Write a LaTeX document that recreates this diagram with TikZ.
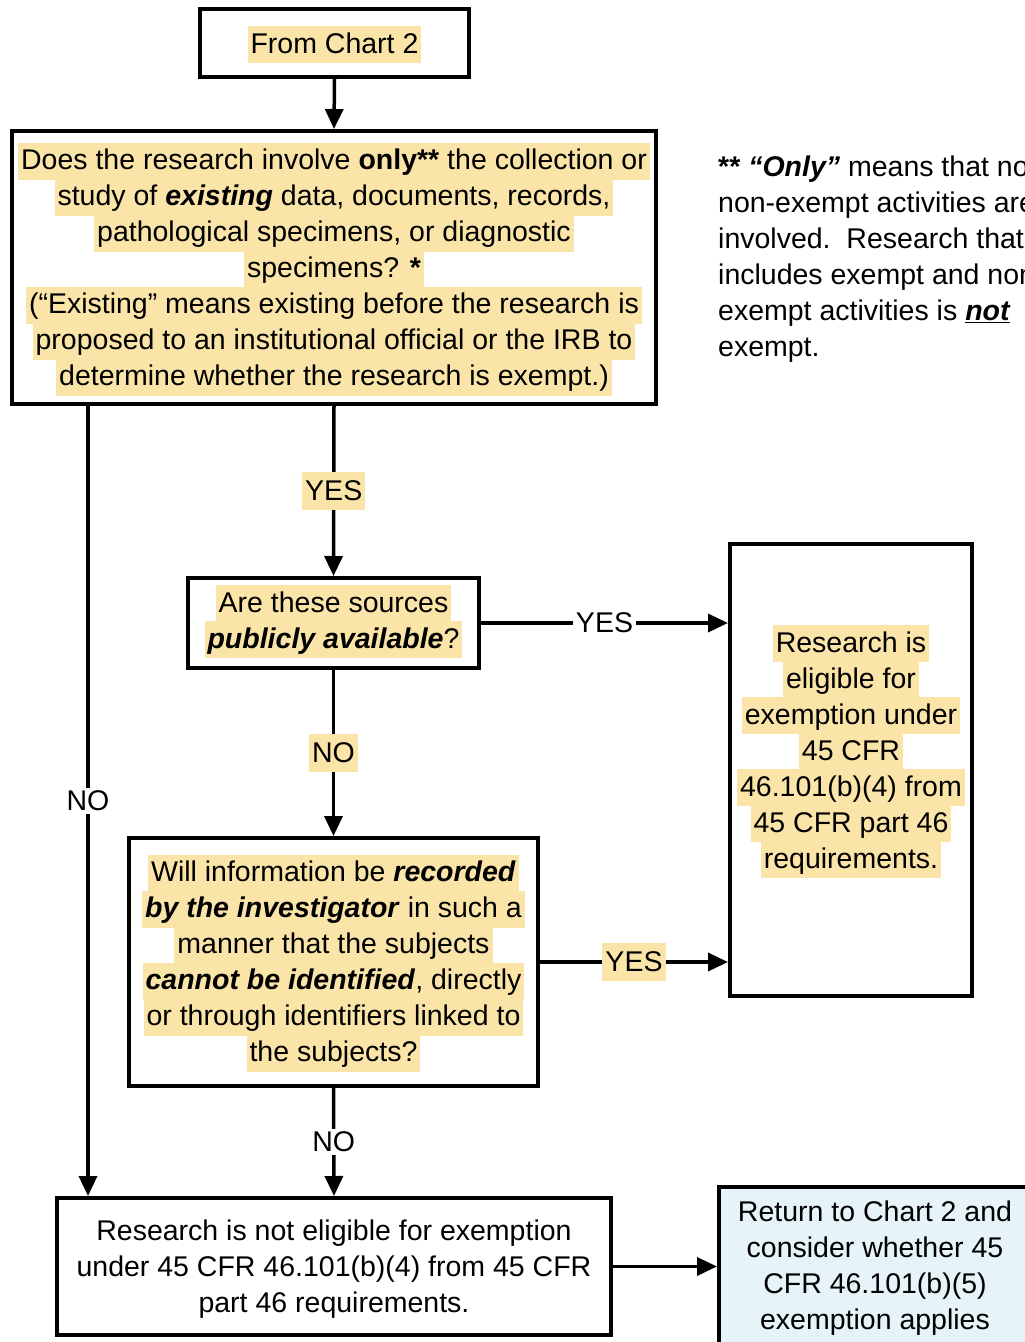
\documentclass[tikz,border=0pt]{standalone}
\usepackage{fontspec}
\setmainfont{Liberation Sans}
\usetikzlibrary{arrows.meta}
\definecolor{hly}{RGB}{250,228,168}
\definecolor{boxblue}{RGB}{230,243,248}
\newcommand\fsz{\fontsize{28.5}{36}\selectfont}
\newsavebox\hlbox
\newlength\hlwd
\newcommand\hl[1]{\sbox\hlbox{#1}\setlength\hlwd{\wd\hlbox}\addtolength\hlwd{6pt}%
  \smash{\rlap{\kern-3pt\textcolor{hly}{\rule[-10pt]{\hlwd}{37pt}}}}\usebox\hlbox}
\newcommand\bi[1]{\textbf{\textit{#1}}}
\begin{document}
\begin{tikzpicture}[x=1pt,y=-1pt,
  box/.style={draw, line width=4pt, inner sep=0pt, align=center, font=\fsz},
  txt/.style={inner sep=0pt, align=center, font=\fsz},
  arr/.style={line width=3.5pt, -{Triangle[length=20pt,width=18pt]}},
  lbl/.style={font=\fsz, inner sep=3pt, fill=white},
  hlbl/.style={lbl, fill=hly, minimum height=38pt}]
\path[use as bounding box, clip] (0,0) rectangle (1025,1342);
\fill[white] (0,0) rectangle (1025,1342);

\node[box, minimum width=269pt, minimum height=68pt] (b1) at (334.5,43) {\hl{From Chart 2}};

\node[box, minimum width=644pt, minimum height=273pt] (b2) at (334,267.5)
 {\rule{0pt}{26pt}\hl{Does the research involve \textbf{only**} the collection or}\\
  \hl{study of \bi{existing} data, documents, records,}\\
  \hl{pathological specimens, or diagnostic}\\
  \hl{specimens? \textbf{*}}\\
  \hl{(“Existing” means existing before the research is}\\
  \hl{proposed to an institutional official or the IRB to}\\
  \hl{determine whether the research is exempt.)}};

\node[box, minimum width=291pt, minimum height=90pt] (b3) at (333.5,623)
 {\hl{Are these sources}\\ \hl{\bi{publicly available}?}};

\node[box, minimum width=242pt, minimum height=452pt] (b4) at (851,770) {};
\node[txt] (b4t) at (851,753)
 {\hl{Research is}\\ \hl{eligible for}\\ \hl{exemption under}\\ \hl{45 CFR}\\
  \hl{46.101(b)(4) from}\\ \hl{45 CFR part 46}\\ \hl{requirements.}};

\node[box, minimum width=409pt, minimum height=248pt] (b5) at (333.5,962)
 {\rule{0pt}{25pt}\hl{Will information be \bi{recorded}}\\
  \hl{\bi{by the investigator} in such a}\\
  \hl{manner that the subjects}\\
  \hl{\bi{cannot be identified}, directly}\\
  \hl{or through identifiers linked to}\\
  \hl{the subjects?}};

\node[box, minimum width=554pt, minimum height=137pt] (b6) at (334,1266.5)
 {\rule{0pt}{25pt}Research is not eligible for exemption\\
  under 45 CFR 46.101(b)(4) from 45 CFR\\
  part 46 requirements.};

\node[box, fill=boxblue, minimum width=312pt, minimum height=157pt] (b7) at (875,1265.5)
 {\rule{0pt}{25pt}Return to Chart 2 and\\ consider whether 45\\ CFR 46.101(b)(5)\\ exemption applies};

\node[anchor=north west, align=left, font=\fsz, inner sep=0pt] (note) at (718,151)
 {\strut\textbf{**} \bi{“Only”} means that no\\
  non-exempt activities are\\
  involved.\ \ Research that\\
  includes exempt and non-\\
  exempt activities is \bi{\underline{not}}\\
  exempt.};

\coordinate (nox) at (88,0);

\draw[arr] (b1.south) -- (b2.north);
\draw[arr] (b2.south) -- node[hlbl]{YES} (b3.north);
\draw[arr] (b3.east) -- node[lbl]{YES} (b3.east -| b4.west);
\draw[arr] (b3.south) -- node[hlbl]{NO} (b5.north);
\draw[arr] (b5.east) -- node[hlbl]{YES} (b5.east -| b4.west);
\draw[arr] (b5.south) -- node[lbl]{NO} (b6.north);
\draw[arr] (b2.south -| nox) -- node[lbl]{NO} (b6.north -| nox);
\draw[arr] (b6.east) -- (b6.east -| b7.west);
\end{tikzpicture}
\end{document}
